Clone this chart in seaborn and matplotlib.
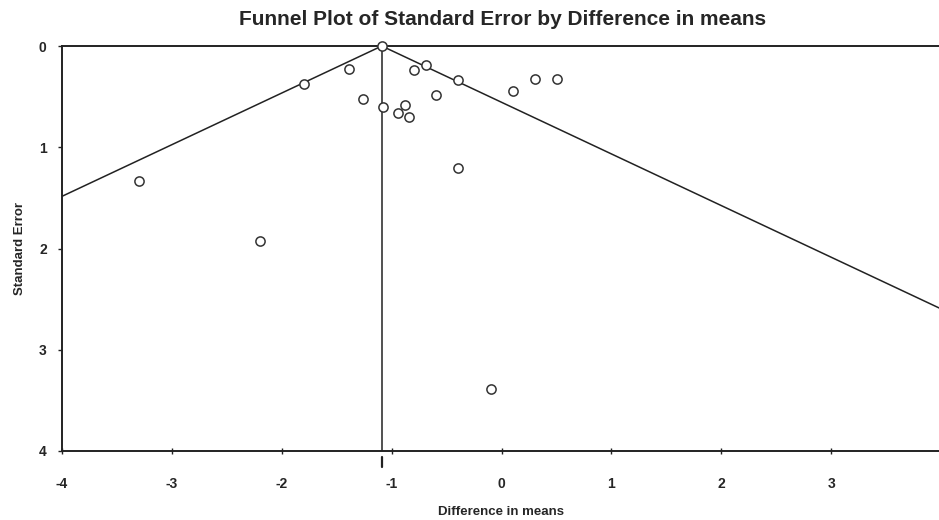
import numpy as np
import pandas as pd
import seaborn as sns
import matplotlib.pyplot as plt
import matplotlib.transforms as mtransforms

# study estimates
diff_means = [-1.09, -1.39, -1.80, -1.26, -1.08, -0.80, -0.69, -0.40, -0.60, -0.88,
              -0.94, -0.84, 0.10, 0.30, 0.50, -0.40, -3.30, -2.20, -0.10]
std_errors = [0.00, 0.23, 0.38, 0.52, 0.60, 0.24, 0.19, 0.34, 0.48, 0.58,
              0.66, 0.70, 0.44, 0.33, 0.33, 1.20, 1.33, 1.93, 3.39]
pooled_mean = -1.09
se_max = 4.0
x_ticks = [-4, -3, -2, -1, 0, 1, 2, 3]
y_ticks = [0, 1, 2, 3, 4]

sns.set_style("white")
plt.rcParams['font.family'] = ['Liberation Sans Narrow', 'Liberation Sans', 'DejaVu Sans']
plt.rcParams['font.weight'] = 'bold'
plt.rcParams['axes.unicode_minus'] = False

df = pd.DataFrame({'diff': diff_means, 'se': std_errors})

# funnel: pooled mean +/- 1.96 * SE
funnel = pd.DataFrame({
    'diff': [pooled_mean - 1.96 * se_max, pooled_mean, pooled_mean + 1.96 * se_max],
    'se': [se_max, 0.0, se_max],
})
centre = pd.DataFrame({'diff': [pooled_mean, pooled_mean], 'se': [0.0, se_max]})

fig = plt.figure(figsize=(9.39, 5.2), dpi=100)
ax = fig.add_axes([62 / 939, 1 - 451 / 520, 1 - 62 / 939, (451 - 46) / 520])

sns.lineplot(data=funnel, x='diff', y='se', sort=False, estimator=None,
             color='#222222', lw=1.1, ax=ax)
sns.lineplot(data=centre, x='diff', y='se', sort=False, estimator=None,
             color='#222222', lw=1.1, ax=ax)
sns.scatterplot(data=df, x='diff', y='se', s=44, facecolor='white', edgecolor='#333333',
                linewidth=1.1, zorder=5, clip_on=False, ax=ax)

ax.set_xlim(-4, 3.98)
ax.set_ylim(4, 0)
ax.set_xticks(x_ticks)
ax.set_yticks(y_ticks)
ax.tick_params(axis='x', direction='inout', length=5, width=1, pad=16, labelsize=10,
               bottom=True, color='#222222')
ax.tick_params(axis='y', direction='out', length=3, width=1, pad=8, labelsize=10,
               left=True, color='#222222')

for side in ['top', 'bottom', 'left']:
    ax.spines[side].set_color('#222222')
    ax.spines[side].set_linewidth(1.4)
ax.spines['right'].set_visible(False)

# small marker below the axis at the pooled mean
trans = mtransforms.blended_transform_factory(ax.transData, ax.transAxes)
ax.plot([pooled_mean, pooled_mean], [-0.015, -0.04], color='#222222', lw=1.6,
        transform=trans, clip_on=False)

ax.set_xlabel('Difference in means', fontsize=9.5, fontweight='bold', labelpad=11)
ax.set_ylabel('Standard Error', fontsize=9.5, fontweight='bold', labelpad=9)
fig.text(0.535, 0.962, 'Funnel Plot of Standard Error by Difference in means',
         ha='center', va='center', fontsize=15, fontweight='bold')

fig.savefig('out.png', dpi=100)
